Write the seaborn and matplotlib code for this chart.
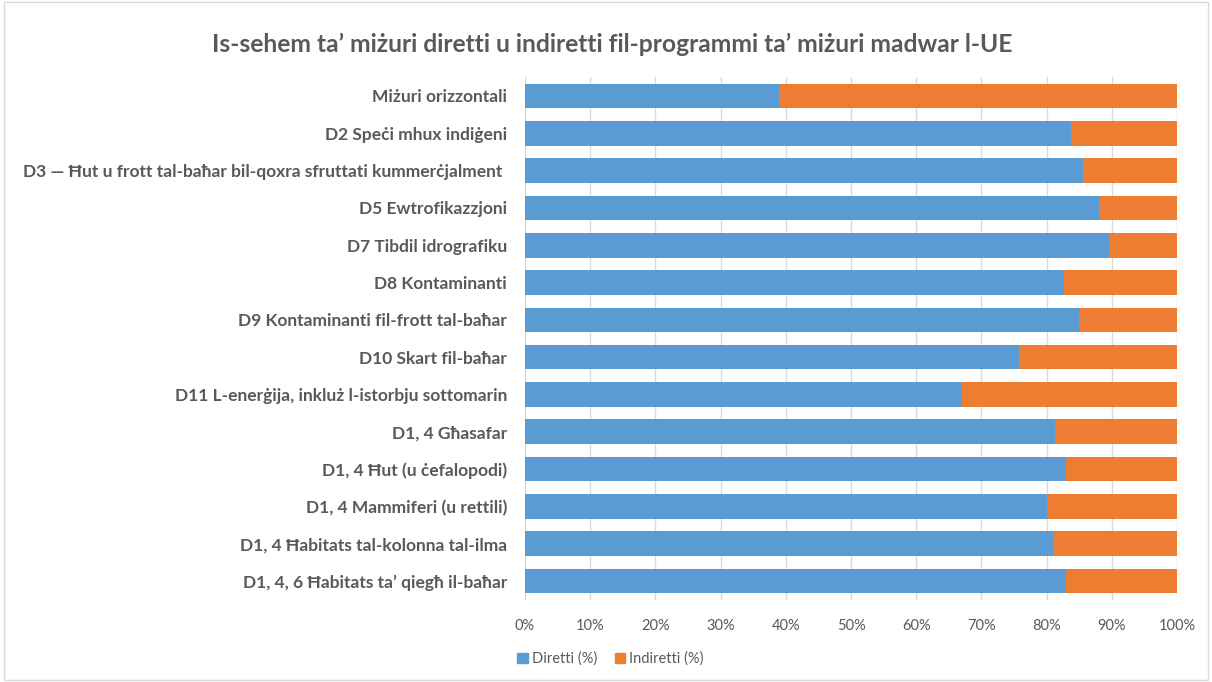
import pandas as pd
import matplotlib.pyplot as plt
import seaborn as sns
from matplotlib.patches import Rectangle, Patch

categories = [
    'Miżuri orizzontali',
    'D2 Speċi mhux indiġeni',
    'D3 — Ħut u frott tal-baħar bil-qoxra sfruttati kummerċjalment ',
    'D5 Ewtrofikazzjoni',
    'D7 Tibdil idrografiku',
    'D8 Kontaminanti',
    'D9 Kontaminanti fil-frott tal-baħar',
    'D10 Skart fil-baħar',
    'D11 L-enerġija, inkluż l-istorbju sottomarin',
    'D1, 4 Għasafar',
    'D1, 4 Ħut (u ċefalopodi)',
    'D1, 4 Mammiferi (u rettili)',
    'D1, 4 Ħabitats tal-kolonna tal-ilma',
    'D1, 4, 6 Ħabitats ta’ qiegħ il-baħar',
]
diretti = [39.0, 83.8, 85.6, 88.1, 89.5, 82.6, 84.9, 75.8, 67.0, 81.3, 83.0, 80.1, 80.9, 82.9]
indiretti = [61.0, 16.2, 14.4, 11.9, 10.5, 17.4, 15.1, 24.2, 33.0, 18.7, 17.0, 19.9, 19.1, 17.1]
ticks = [0, 10, 20, 30, 40, 50, 60, 70, 80, 90, 100]

blue = '#5B9BD5'
orange = '#ED7D31'
grey = '#595959'

df = pd.DataFrame({'kategorija': categories, 'Diretti (%)': diretti, 'Indiretti (%)': indiretti})
df['total'] = df['Diretti (%)'] + df['Indiretti (%)']

sns.set_style('white')
plt.rcParams['font.family'] = ['Lato', 'DejaVu Sans']

fig = plt.figure(figsize=(12.12, 6.82), dpi=100)
ax = fig.add_axes([0.4332, 0.1207, 0.5380, 0.766])

# stacked: full bar in orange, direct part in blue on top
sns.barplot(data=df, x='total', y='kategorija', color=orange, width=0.66,
            linewidth=0, saturation=1, ax=ax, zorder=2)
sns.barplot(data=df, x='Diretti (%)', y='kategorija', color=blue, width=0.66,
            linewidth=0, saturation=1, ax=ax, zorder=3)

ax.set_xlim(0, 100)
ax.set_xticks(ticks)
ax.set_xticklabels([f'{t}%' for t in ticks])
ax.tick_params(axis='x', colors=grey, labelsize=10.5, length=0, pad=14)
ax.tick_params(axis='y', colors=grey, labelsize=12.5, length=0, pad=13)
for lab in ax.get_yticklabels():
    lab.set_fontweight('bold')
ax.set_xlabel('')
ax.set_ylabel('')
ax.grid(axis='x', color='#D9D9D9', linewidth=1, zorder=0)
ax.set_axisbelow(True)
sns.despine(ax=ax, left=True, bottom=True)

fig.text(0.505, 0.935, 'Is-sehem ta’ miżuri diretti u indiretti fil-programmi ta’ miżuri madwar l-UE',
         ha='center', va='center', fontsize=17.7, fontweight='bold', color=grey)

handles = [Patch(color=blue, label='Diretti (%)'), Patch(color=orange, label='Indiretti (%)')]
fig.legend(handles=handles, loc='center left', bbox_to_anchor=(0.416, 0.034), ncol=2,
           frameon=False, fontsize=10.5, labelcolor=grey, handlelength=0.7, handleheight=0.7,
           handletextpad=0.3, columnspacing=1.2)

fig.patches.append(Rectangle((0.003, 0.003), 0.994, 0.994, transform=fig.transFigure,
                             fill=False, edgecolor='#D9D9D9', linewidth=1))

plt.savefig('out.png', dpi=100)
